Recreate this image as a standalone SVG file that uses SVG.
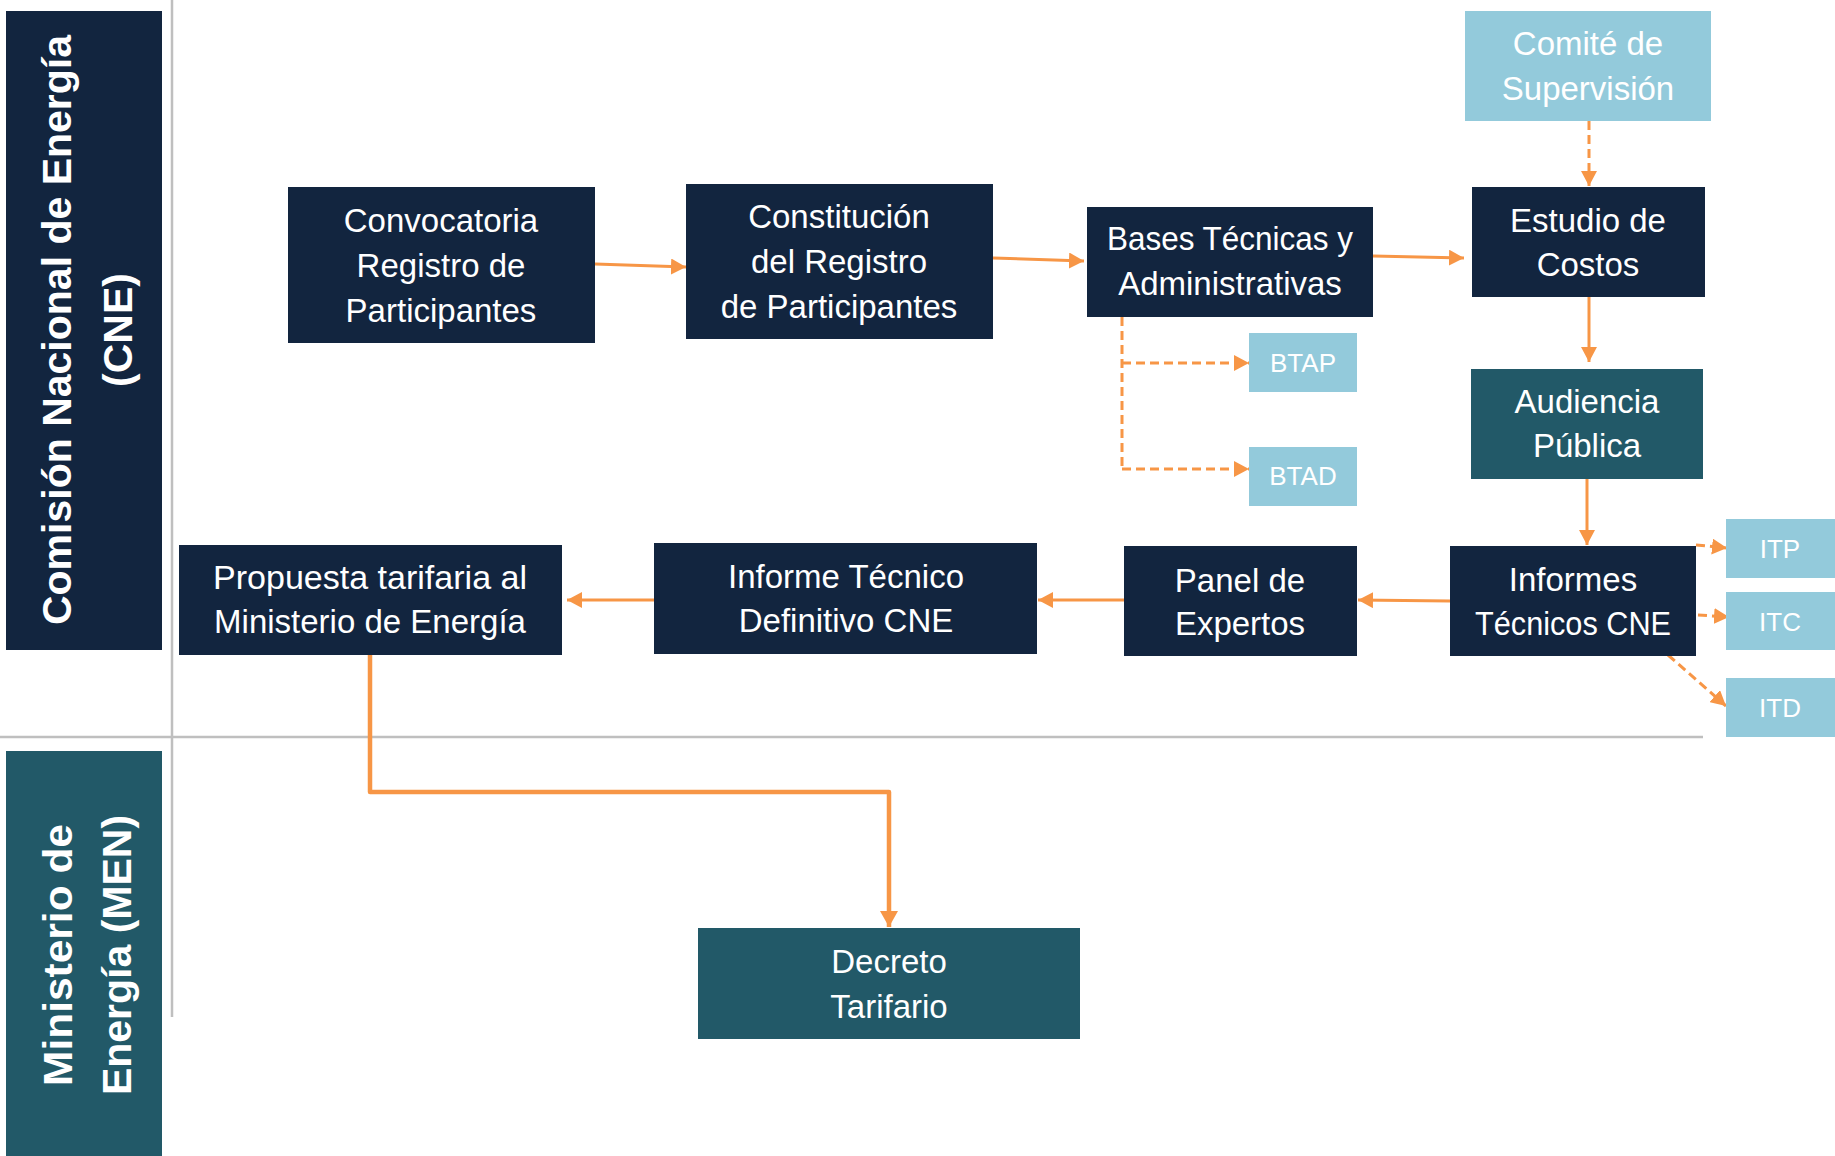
<svg xmlns="http://www.w3.org/2000/svg" width="1835" height="1156" viewBox="0 0 1835 1156">
<style>
.navy{fill:#12253F}
.teal{fill:#225968}
.light{fill:#93CADB}
.t{font-family:"Liberation Sans",Arial,sans-serif;font-size:33px;fill:#FFFFFF;text-anchor:middle}
.ts{font-family:"Liberation Sans",Arial,sans-serif;font-size:26px;fill:#FFFFFF;text-anchor:middle}
.lane{font-family:"Liberation Sans",Arial,sans-serif;font-size:41px;font-weight:bold;fill:#FFFFFF;text-anchor:middle}
.c{stroke:#F79646;stroke-width:3;fill:none}
.d{stroke:#F79646;stroke-width:3;fill:none;stroke-dasharray:9 5}
.sep{stroke:#BFBFBF;stroke-width:2.5;fill:none}
</style>
<defs>
<marker id="ah" markerUnits="userSpaceOnUse" markerWidth="16" markerHeight="16" refX="15" refY="8" orient="auto">
<path d="M0,0 L15,8 L0,16 Z" fill="#F79646"/>
</marker>
<marker id="ahb" markerUnits="userSpaceOnUse" markerWidth="18" markerHeight="18" refX="16" refY="9" orient="auto">
<path d="M0,0 L16,9 L0,18 Z" fill="#F79646"/>
</marker>
</defs>
<rect width="1835" height="1156" fill="#FFFFFF"/>

<g id="lanes">
<line class="sep" x1="172" y1="0" x2="172" y2="1017"/>
<line class="sep" x1="0" y1="737" x2="1703" y2="737"/>
<g id="lane-cne">
<rect class="navy" x="6" y="11" width="156" height="639"/>
<g transform="translate(0,330) rotate(-90)">
<text class="lane" x="0" y="71">Comisión Nacional de Energía</text>
<text class="lane" x="0" y="132">(CNE)</text>
</g>
</g>
<g id="lane-men">
<rect class="teal" x="6" y="751" width="156" height="405"/>
<g transform="translate(0,955) rotate(-90)">
<text class="lane" x="0" y="72" textLength="262" lengthAdjust="spacingAndGlyphs">Ministerio de</text>
<text class="lane" x="0" y="131">Energía (MEN)</text>
</g>
</g>
</g>

<g id="connectors">
<line class="c" x1="595" y1="264" x2="686" y2="267" marker-end="url(#ah)"/>
<line class="c" x1="993" y1="258" x2="1084" y2="261" marker-end="url(#ah)"/>
<line class="c" x1="1373" y1="256" x2="1464" y2="258" marker-end="url(#ah)"/>
<line class="d" x1="1589" y1="121" x2="1589" y2="186" marker-end="url(#ah)"/>
<line class="c" x1="1589" y1="297" x2="1589" y2="362" marker-end="url(#ah)"/>
<line class="c" x1="1587" y1="479" x2="1587" y2="545" marker-end="url(#ah)"/>
<path class="d" d="M1122,317 L1122,469"/>
<line class="d" x1="1122" y1="363" x2="1249" y2="363" marker-end="url(#ah)"/>
<line class="d" x1="1122" y1="469" x2="1249" y2="469" marker-end="url(#ah)"/>
<line class="d" x1="1696" y1="545" x2="1727" y2="548" marker-end="url(#ah)"/>
<line class="d" x1="1698" y1="615" x2="1729" y2="617" marker-end="url(#ah)"/>
<line class="d" x1="1668" y1="655" x2="1726" y2="706" marker-end="url(#ah)"/>
<line class="c" x1="1450" y1="601" x2="1358" y2="600" marker-end="url(#ah)"/>
<line class="c" x1="1124" y1="600" x2="1038" y2="600" marker-end="url(#ah)"/>
<line class="c" x1="654" y1="600" x2="567" y2="600" marker-end="url(#ah)"/>
<path d="M370,655 L370,792 L889,792 L889,927" stroke="#F79646" stroke-width="4.5" fill="none" stroke-linejoin="round" marker-end="url(#ahb)"/>
</g>

<g id="node-convocatoria">
<rect class="navy" x="288" y="187" width="307" height="156"/>
<text class="t" x="441" y="232">Convocatoria</text>
<text class="t" x="441" y="277">Registro de</text>
<text class="t" x="441" y="322">Participantes</text>
</g>
<g id="node-constitucion">
<rect class="navy" x="686" y="184" width="307" height="155"/>
<text class="t" x="839" y="228">Constitución</text>
<text class="t" x="839" y="273">del Registro</text>
<text class="t" x="839" y="318">de Participantes</text>
</g>
<g id="node-bases">
<rect class="navy" x="1087" y="207" width="286" height="110"/>
<text class="t" x="1230" y="250" textLength="246" lengthAdjust="spacingAndGlyphs">Bases Técnicas y</text>
<text class="t" x="1230" y="295">Administrativas</text>
</g>
<g id="node-btap">
<rect class="light" x="1249" y="333" width="108" height="59"/>
<text class="ts" x="1303" y="372">BTAP</text>
</g>
<g id="node-btad">
<rect class="light" x="1249" y="447" width="108" height="59"/>
<text class="ts" x="1303" y="485">BTAD</text>
</g>
<g id="node-comite">
<rect class="light" x="1465" y="11" width="246" height="110"/>
<text class="t" x="1588" y="55">Comité de</text>
<text class="t" x="1588" y="100">Supervisión</text>
</g>
<g id="node-estudio">
<rect class="navy" x="1472" y="187" width="233" height="110"/>
<text class="t" x="1588" y="232">Estudio de</text>
<text class="t" x="1588" y="276">Costos</text>
</g>
<g id="node-audiencia">
<rect class="teal" x="1471" y="369" width="232" height="110"/>
<text class="t" x="1587" y="413">Audiencia</text>
<text class="t" x="1587" y="457">Pública</text>
</g>
<g id="node-informes">
<rect class="navy" x="1450" y="546" width="246" height="110"/>
<text class="t" x="1573" y="591">Informes</text>
<text class="t" x="1573" y="635" textLength="196" lengthAdjust="spacingAndGlyphs">Técnicos CNE</text>
</g>
<g id="node-itp">
<rect class="light" x="1726" y="519" width="109" height="59"/>
<text class="ts" x="1780" y="558">ITP</text>
</g>
<g id="node-itc">
<rect class="light" x="1726" y="592" width="109" height="58"/>
<text class="ts" x="1780" y="631">ITC</text>
</g>
<g id="node-itd">
<rect class="light" x="1726" y="678" width="109" height="59"/>
<text class="ts" x="1780" y="717">ITD</text>
</g>
<g id="node-panel">
<rect class="navy" x="1124" y="546" width="233" height="110"/>
<text class="t" x="1240" y="592">Panel de</text>
<text class="t" x="1240" y="635">Expertos</text>
</g>
<g id="node-informe-definitivo">
<rect class="navy" x="654" y="543" width="383" height="111"/>
<text class="t" x="846" y="588">Informe Técnico</text>
<text class="t" x="846" y="632">Definitivo CNE</text>
</g>
<g id="node-propuesta">
<rect class="navy" x="179" y="545" width="383" height="110"/>
<text class="t" x="370" y="589" textLength="314" lengthAdjust="spacingAndGlyphs">Propuesta tarifaria al</text>
<text class="t" x="370" y="633">Ministerio de Energía</text>
</g>
<g id="node-decreto">
<rect class="teal" x="698" y="928" width="382" height="111"/>
<text class="t" x="889" y="973">Decreto</text>
<text class="t" x="889" y="1018">Tarifario</text>
</g>
</svg>
